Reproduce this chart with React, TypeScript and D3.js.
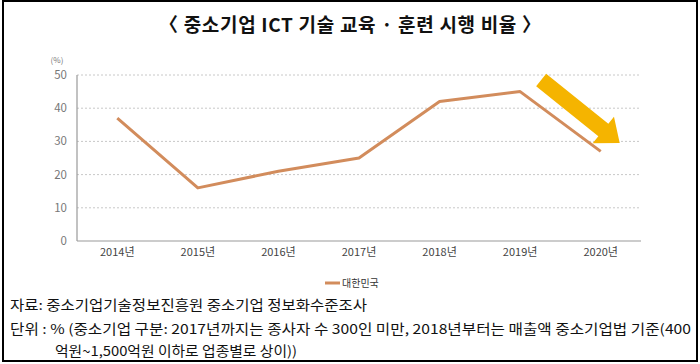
import React from "react";
import * as d3 from "d3";

const years = ["2014년", "2015년", "2016년", "2017년", "2018년", "2019년", "2020년"];
const korea = [37, 16, 21, 25, 42, 45, 27];
const yTicks = [0, 10, 20, 30, 40, 50];

const title = "〈 중소기업 ICT 기술 교육 · 훈련 시행 비율 〉";
const seriesName = "대한민국";
const source = "자료: 중소기업기술정보진흥원 중소기업 정보화수준조사";
const unitLine1 = "단위 : % (중소기업 구분: 2017년까지는 종사자 수 300인 미만, 2018년부터는 매출액 중소기업법 기준(400";
const unitLine2 = "억원~1,500억원 이하로 업종별로 상이))";

const W = 700;
const H = 364;
const font = "'Noto Sans CJK KR', 'Noto Sans', sans-serif";

export default function App() {
    const left = 77;
    const right = 641;
    const top = 75;
    const bottom = 241;

    const x = d3.scaleBand<string>().domain(years).range([left, right]);
    const cx = (d: string) => (x(d) ?? 0) + x.bandwidth() / 2;
    const y = d3.scaleLinear().domain([0, 50]).range([bottom, top]);

    const line = d3
        .line<number>()
        .x((_, i) => cx(years[i]))
        .y((d) => y(d));

    // yellow trend arrow, placed from 2019 to 2020 in data space
    const ax0 = cx("2019년") + 21;
    const ay0 = y(48.5);
    const ax1 = cx("2020년") + 19;
    const ay1 = y(29.5);
    const len = Math.hypot(ax1 - ax0, ay1 - ay0);
    const ang = (Math.atan2(ay1 - ay0, ax1 - ax0) * 180) / Math.PI;
    const shaft = 8;
    const head = 17;
    const headLen = 21;
    const arrow = [
        [0, -shaft],
        [len - headLen, -shaft],
        [len - headLen, -head],
        [len, 0],
        [len - headLen, head],
        [len - headLen, shaft],
        [0, shaft],
    ]
        .map((p) => p.join(","))
        .join(" ");

    return (
        <svg width={W} height={H} style={{ position: "absolute", left: 0, top: 0 }} fontFamily={font}>
            <rect x={0} y={0} width={W} height={H} fill="#fff" />
            <rect x={3} y={1} width={694} height={360} fill="none" stroke="#000" strokeWidth={2} />

            <text x={W / 2} y={32} textAnchor="middle" fontSize={19} fontWeight="bold" fill="#111"
                textLength={382} lengthAdjust="spacing">
                {title}
            </text>

            <text x={57} y={63} textAnchor="middle" fontSize={8} fill="#777">(%)</text>

            {yTicks.map((t) => (
                <g key={t}>
                    {t > 0 && (
                        <line x1={left} x2={right} y1={y(t)} y2={y(t)} stroke="#c8c8c8" strokeDasharray="2,2" />
                    )}
                    <text x={67} y={y(t)} dy="0.35em" textAnchor="end" fontSize={11.5} fill="#777">
                        {t}
                    </text>
                </g>
            ))}

            <line x1={left} x2={left} y1={top} y2={bottom} stroke="#999" strokeWidth={1.2} />
            <line x1={left} x2={right} y1={bottom} y2={bottom} stroke="#999" strokeWidth={1.2} />

            {years.map((yr) => (
                <text key={yr} x={cx(yr)} y={256} textAnchor="middle" fontSize={11} fill="#444">
                    {yr}
                </text>
            ))}

            <path d={line(korea) ?? ""} fill="none" stroke="#d28c5c" strokeWidth={3} strokeLinejoin="round" />

            <polygon
                points={arrow}
                transform={`translate(${ax0},${ay0}) rotate(${ang})`}
                fill="#f5b400"
            />

            <line x1={325} x2={340} y1={283} y2={283} stroke="#d28c5c" strokeWidth={3} />
            <text x={342} y={283} dy="0.35em" fontSize={10} fill="#333">{seriesName}</text>

            <text x={10} y={310} fontSize={13.5} fill="#111" textLength={357} lengthAdjust="spacingAndGlyphs">
                {source}
            </text>
            <text x={10} y={334} fontSize={13.5} fill="#111" textLength={681} lengthAdjust="spacingAndGlyphs">
                {unitLine1}
            </text>
            <text x={55} y={356} fontSize={13.5} fill="#111" textLength={242} lengthAdjust="spacingAndGlyphs">
                {unitLine2}
            </text>
        </svg>
    );
}
